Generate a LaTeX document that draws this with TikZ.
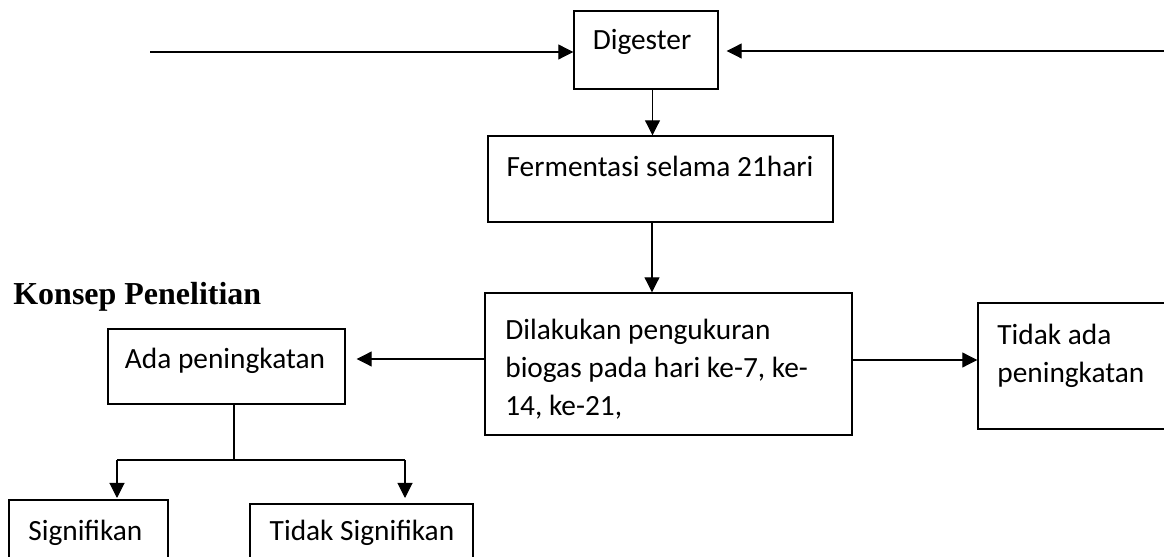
\documentclass[tikz,border=0pt]{standalone}
\usepackage{fontspec}
\setmainfont{Carlito}
\newfontfamily\headfont{Liberation Serif}
\usetikzlibrary{arrows.meta}

\tikzset{
	box/.style={shape=rectangle, draw, line width=0.8pt},
	wire/.style={line width=0.6pt},
	arr/.style={wire, -{Triangle[length=0.3cm, width=0.3cm]}},
	txt/.style={inner sep=0pt, font=\fontsize{16.7}{21.6}\selectfont},
}

\begin{document}
\begin{tikzpicture}
				\useasboundingbox (0, 0) rectangle (23.28, 11.14);
				% Paths, nodes and wires:
				\node[box, minimum width=2.88cm, minimum height=1.56cm] (dig) at (12.92, 10.14){};
				\node[txt] (digT) at (12.84, 10.30){Digester};
				\node[box, minimum width=6.9cm, minimum height=1.72cm] (ferm) at (13.21, 7.56){};
				\node[txt] (fermT) at (13.2, 7.82){Fermentasi selama 21hari};
				\node[box, minimum width=7.34cm, minimum height=2.84cm] (ukur) at (13.37, 3.86){};
				\node[txt, anchor=north west, align=left] (ukurT) at (10.1, 4.76){Dilakukan pengukuran\\biogas pada hari ke-7, ke-\\14, ke-21,};
				\node[box, minimum width=4.4cm, minimum height=2.52cm] (tidak) at (21.76, 3.82){};
				\node[txt, anchor=north west, align=left] (tidakT) at (19.94, 4.66){Tidak ada\\peningkatan};
				\node[box, minimum width=4.74cm, minimum height=1.5cm] (ada) at (4.53, 3.81){};
				\node[txt] (adaT) at (4.5, 3.92){Ada peningkatan};
				\node[box, minimum width=3.18cm, minimum height=1.6cm] (sig) at (1.77, 0.34){};
				\node[txt, anchor=west] (sigT) at (0.56, 0.48){Signifikan};
				\node[box, minimum width=4.46cm, minimum height=1.5cm] (tsig) at (7.23, 0.31){};
				\node[txt] (tsigT) at (7.24, 0.48){Tidak Signifikan};
				\node[inner sep=0pt, anchor=west, font=\headfont\bfseries\fontsize{18.2}{22}\selectfont] (judul) at (0.26, 5.2){Konsep Penelitian};
				\coordinate (inL) at (3, 10.1);
				\coordinate (inR) at (23.28, 10.12);
				\coordinate (split) at (4.68, 1.94);
				\draw[arr] (inL) -- (inL -| dig.west);
				\draw[arr, shorten >=0.16cm] (inR) -- (inR -| dig.east);
				\draw[arr] (13.05, 0 |- dig.south) -- (13.05, 0 |- ferm.north);
				\draw[arr] (13.04, 0 |- ferm.south) -- (13.04, 0 |- ukur.north);
				\draw[arr, shorten >=0.22cm] (ukur.west |- 0, 3.96) -- (ada.east |- 0, 3.96);
				\draw[arr] (ukur.east |- 0, 3.94) -- (tidak.west |- 0, 3.94);
				\draw[wire] (split |- ada.south) -- (split);
				\draw[wire] (2.34, 0 |- split) -- (8.1, 0 |- split);
				\draw[arr] (2.34, 0 |- split) -- (2.34, 1.18);
				\draw[arr] (8.1, 0 |- split) -- (8.1, 1.18);
			\end{tikzpicture}
\end{document}
